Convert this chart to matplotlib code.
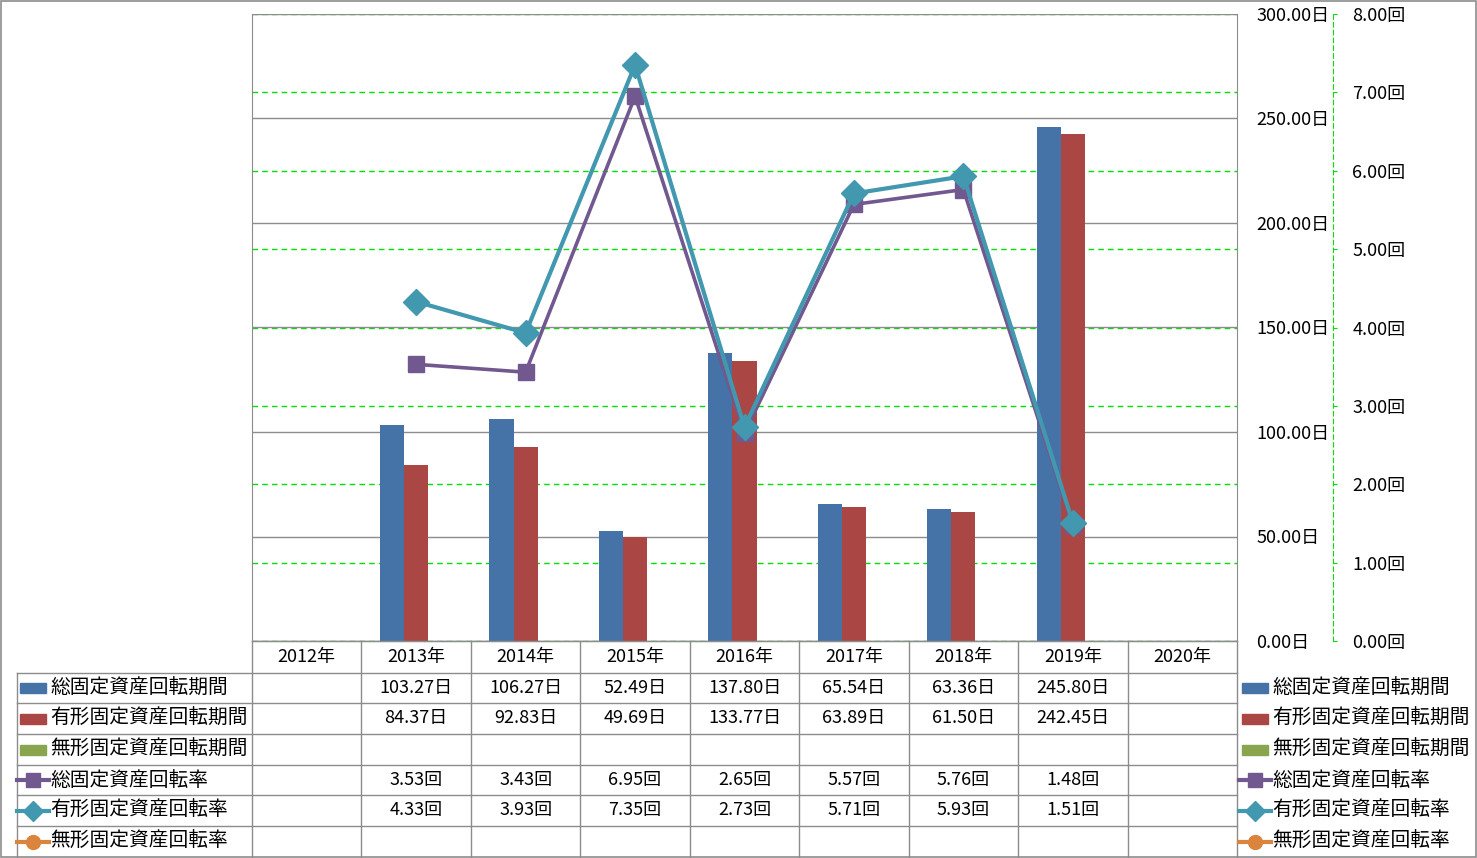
import numpy as np
import matplotlib
matplotlib.use("Agg")
import matplotlib.pyplot as plt
from matplotlib.patches import Rectangle
from matplotlib.lines import Line2D
from matplotlib.transforms import blended_transform_factory

plt.rcParams['font.family'] = ['Noto Sans CJK JP', 'DejaVu Sans']

nan = np.nan
years = ["2012年", "2013年", "2014年", "2015年", "2016年", "2017年", "2018年", "2019年", "2020年"]
total_period = [nan, 103.27, 106.27, 52.49, 137.80, 65.54, 63.36, 245.80, nan]
tangible_period = [nan, 84.37, 92.83, 49.69, 133.77, 63.89, 61.50, 242.45, nan]
intangible_period = [nan] * 9
total_rate = [nan, 3.53, 3.43, 6.95, 2.65, 5.57, 5.76, 1.48, nan]
tangible_rate = [nan, 4.33, 3.93, 7.35, 2.73, 5.71, 5.93, 1.51, nan]
intangible_rate = [nan] * 9

day_ticks = [0, 50, 100, 150, 200, 250, 300]
rate_ticks = [0, 1, 2, 3, 4, 5, 6, 7, 8]

BLUE, RED, GREEN = "#4572A7", "#AA4643", "#89A54E"
PURPLE, TEAL, ORANGE = "#71588F", "#4198AF", "#DB843D"
GRAY = "#8C8C8C"
LIME = "#00E000"
FS = 13

series = [
    ("総固定資産回転期間", total_period, "bar", BLUE, None),
    ("有形固定資産回転期間", tangible_period, "bar", RED, None),
    ("無形固定資産回転期間", intangible_period, "bar", GREEN, None),
    ("総固定資産回転率", total_rate, "line", PURPLE, "s"),
    ("有形固定資産回転率", tangible_rate, "line", TEAL, "D"),
    ("無形固定資産回転率", intangible_rate, "line", ORANGE, "o"),
]

W, H = 1477, 858
fig = plt.figure(figsize=(W / 100, H / 100), dpi=100)


def rect(x0, y0, x1, y1):
    return [x0 / W, 1 - y1 / H, (x1 - x0) / W, (y1 - y0) / H]


box = rect(252, 14, 1237, 641)
x = np.arange(len(years))

# rate axis (green grid, drawn first so bars cover it)
ax_r = fig.add_axes(box, zorder=0)
ax_r.set_xlim(-0.5, len(years) - 0.5)
ax_r.set_ylim(0, 8)
ax_r.yaxis.tick_right()
ax_r.set_yticks(rate_ticks)
ax_r.set_yticklabels([f"{v:.2f}回" for v in rate_ticks])
ax_r.tick_params(axis='y', direction='out', length=3, color=LIME, pad=11, labelsize=FS)
ax_r.set_xticks([])
for s in ax_r.spines.values():
    s.set_visible(False)
ax_r.spines['right'].set_visible(True)
ax_r.spines['right'].set_position(('outward', 69))
ax_r.spines['right'].set_color(LIME)
ax_r.spines['right'].set_linestyle((0, (4, 3)))
ax_r.grid(axis='y', color=LIME, linestyle=(0, (4, 3)), linewidth=1)

# day axis with bars
ax = fig.add_axes(box, zorder=1)
ax.patch.set_visible(False)
ax.set_xlim(-0.5, len(years) - 0.5)
ax.set_ylim(0, 300)
ax.yaxis.tick_right()
ax.set_yticks(day_ticks)
ax.set_yticklabels([f"{v:.2f}日" for v in day_ticks])
ax.tick_params(axis='y', length=0, pad=14, labelsize=FS)
ax.set_xticks([])
ax.grid(axis='y', color=GRAY, linewidth=1)
ax.set_axisbelow(True)
for s in ax.spines.values():
    s.set_color(GRAY)
ax.spines['top'].set_visible(False)

bw = 0.22
bars = [s for s in series if s[2] == "bar"]
for i, (name, vals, kind, col, mk) in enumerate(bars):
    ax.bar(x + (i - 1) * bw, vals, width=bw, color=col, zorder=2)

# line layer
ax_l = fig.add_axes(box, zorder=2)
ax_l.patch.set_visible(False)
ax_l.set_xlim(-0.5, len(years) - 0.5)
ax_l.set_ylim(0, 8)
ax_l.axis('off')
for name, vals, kind, col, mk in series:
    if kind != "line":
        continue
    lw = 3 if mk == "D" else 2.6
    ms = 13 if mk == "D" else 11
    ax_l.plot(x, vals, color=col, lw=lw, marker=mk, markersize=ms,
              markeredgecolor=col)

# overlay in pixel coordinates for table and legends
ov = fig.add_axes([0, 0, 1, 1], zorder=3)
ov.set_xlim(0, W)
ov.set_ylim(H, 0)
ov.axis('off')
ov.patch.set_visible(False)

rows = [641, 673, 703, 734, 765, 795, 826, 857]
tx = blended_transform_factory(ax.transData, ov.transData)

# table grid
ov.plot([252, 1237], [rows[0]] * 2, color=GRAY, lw=1)
for r in rows[1:-1]:
    ov.plot([17, 1237], [r, r], color=GRAY, lw=1)
ov.plot([17, 17], [rows[1], rows[-1]], color=GRAY, lw=1)
for i in range(len(years) + 1):
    ov.plot([i - 0.5, i - 0.5], [rows[0], rows[-1]], color=GRAY, lw=1, transform=tx)

for i, yr in enumerate(years):
    ov.text(i, (rows[0] + rows[1]) / 2, yr, transform=tx, ha='center', va='center', fontsize=FS)

for r, (name, vals, kind, col, mk) in enumerate(series):
    yc = (rows[r + 1] + rows[r + 2]) / 2
    unit = "日" if kind == "bar" else "回"
    for i, v in enumerate(vals):
        if not np.isnan(v):
            ov.text(i, yc, f"{v:.2f}{unit}", transform=tx, ha='center', va='center', fontsize=FS)


def draw_key(x0, yc, name, kind, col, mk):
    if kind == "bar":
        ov.add_patch(Rectangle((x0, yc - 5), 26, 10, color=col))
    else:
        ov.add_line(Line2D([x0 - 3, x0 + 29], [yc, yc], color=col, lw=3))
        ov.add_line(Line2D([x0 + 13], [yc], color=col, marker=mk, markersize=10,
                           markeredgecolor=col))
    ov.text(x0 + 30, yc, name, ha='left', va='center', fontsize=14.2)


for r, (name, vals, kind, col, mk) in enumerate(series):
    yc = (rows[r + 1] + rows[r + 2]) / 2
    draw_key(20, yc, name, kind, col, mk)
    draw_key(1242, yc, name, kind, col, mk)

# outer border
ov.add_patch(Rectangle((0.5, 0.5), W - 1.5, H - 1.5, fill=False, edgecolor=GRAY, lw=1.2))

fig.savefig("out.png", dpi=100)
